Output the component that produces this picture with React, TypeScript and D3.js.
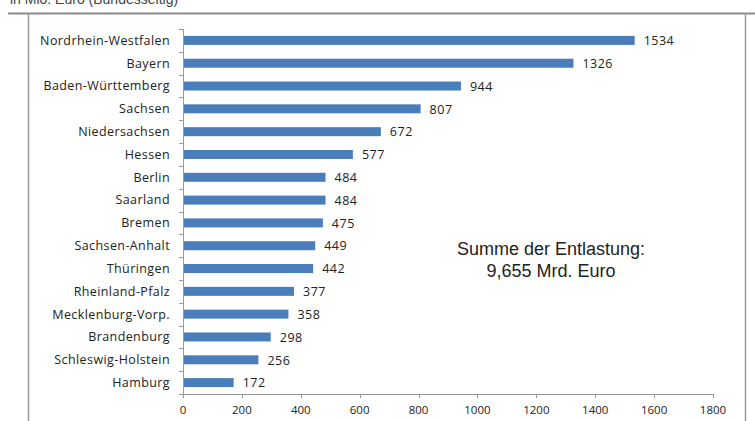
import React, { useEffect, useRef } from 'react';
import * as d3 from 'd3';

const states = [
  'Nordrhein-Westfalen', 'Bayern', 'Baden-Württemberg', 'Sachsen', 'Niedersachsen',
  'Hessen', 'Berlin', 'Saarland', 'Bremen', 'Sachsen-Anhalt', 'Thüringen',
  'Rheinland-Pfalz', 'Mecklenburg-Vorp.', 'Brandenburg', 'Schleswig-Holstein', 'Hamburg',
];
const values = [1534, 1326, 944, 807, 672, 577, 484, 484, 475, 449, 442, 377, 358, 298, 256, 172];
const xTicks = [0, 200, 400, 600, 800, 1000, 1200, 1400, 1600, 1800];
const noteLines = ['Summe der Entlastung:', '9,655 Mrd. Euro'];
const subtitle = 'in Mio. Euro (Bundesseitig)';

const W = 755;
const H = 421;

const App = () => {
  const ref = useRef<SVGSVGElement>(null);

  useEffect(() => {
    const svg = d3.select(ref.current);
    svg.selectAll('*').remove();

    const left = 183, right = 713, top = 29, bottom = 394;
    const font = 'Open Sans, sans-serif';

    // frame (the subtitle is cut off at the top, like in the original)
    svg.append('text')
      .attr('x', 10).attr('y', 4)
      .attr('font-family', 'Liberation Sans, Arial, sans-serif')
      .attr('font-size', 14).attr('fill', '#444')
      .text(subtitle);
    svg.append('line').attr('x1', 8).attr('x2', W).attr('y1', 13.5).attr('y2', 13.5)
      .attr('stroke', '#8c8c8c').attr('stroke-width', 2);
    svg.append('line').attr('x1', 28.5).attr('x2', 28.5).attr('y1', 13).attr('y2', H)
      .attr('stroke', '#9a9a9a').attr('stroke-width', 1.5);
    svg.append('line').attr('x1', 745.5).attr('x2', 745.5).attr('y1', 13).attr('y2', H)
      .attr('stroke', '#9a9a9a').attr('stroke-width', 1.5);

    const x = d3.scaleLinear().domain([0, 1800]).range([left, right]);
    const band = d3.scaleBand<string>().domain(states).range([top, bottom]);
    const mid = (s: string) => (band(s) as number) + band.bandwidth() / 2;

    // y axis
    svg.append('line').attr('x1', left + 0.5).attr('x2', left + 0.5).attr('y1', top).attr('y2', bottom)
      .attr('stroke', '#999');
    svg.append('g').selectAll('line')
      .data([...states.map(s => band(s) as number), bottom])
      .enter().append('line')
      .attr('x1', left - 4).attr('x2', left)
      .attr('y1', d => Math.round(d) + 0.5).attr('y2', d => Math.round(d) + 0.5)
      .attr('stroke', '#999');

    // x axis
    svg.append('line').attr('x1', left).attr('x2', right + 0.5).attr('y1', bottom + 0.5).attr('y2', bottom + 0.5)
      .attr('stroke', '#999');
    const xa = svg.append('g');
    xa.selectAll('line').data(xTicks).enter().append('line')
      .attr('x1', d => Math.round(x(d)) + 0.5).attr('x2', d => Math.round(x(d)) + 0.5)
      .attr('y1', bottom).attr('y2', bottom + 4)
      .attr('stroke', '#999');
    xa.selectAll('text').data(xTicks).enter().append('text')
      .attr('x', d => x(d)).attr('y', bottom + 20)
      .attr('text-anchor', 'middle')
      .attr('font-family', font).attr('font-size', 11.5).attr('fill', '#222')
      .text(d => d);

    // category labels
    svg.append('g').selectAll('text').data(states).enter().append('text')
      .attr('x', left - 13)
      .attr('y', mid)
      .attr('dy', '0.35em')
      .attr('text-anchor', 'end')
      .attr('font-family', font).attr('font-size', 12.5).attr('letter-spacing', 0.4).attr('fill', '#222')
      .text(d => d);

    // bars
    svg.append('g').selectAll('rect').data(states).enter().append('rect')
      .attr('x', x(0) + 1)
      .attr('y', d => mid(d) - 4.5)
      .attr('width', (d, i) => x(values[i]) - x(0) - 1)
      .attr('height', 9)
      .attr('fill', '#4a7ebb');

    // value labels
    svg.append('g').selectAll('text').data(states).enter().append('text')
      .attr('x', (d, i) => x(values[i]) + 9)
      .attr('y', mid)
      .attr('dy', '0.38em')
      .attr('font-family', font).attr('font-size', 12.5).attr('letter-spacing', 0.5).attr('fill', '#222')
      .text((d, i) => values[i]);

    // note
    svg.append('g').selectAll('text').data(noteLines).enter().append('text')
      .attr('x', 551).attr('y', (d, i) => 255 + i * 22)
      .attr('text-anchor', 'middle')
      .attr('font-family', 'Liberation Sans, Arial, sans-serif')
      .attr('font-size', 18).attr('fill', '#222')
      .text(d => d);
  }, []);

  return (
    <svg ref={ref} width={W} height={H} style={{ position: 'absolute', left: 0, top: 0, background: '#fff' }}></svg>
  );
};

export default App;
